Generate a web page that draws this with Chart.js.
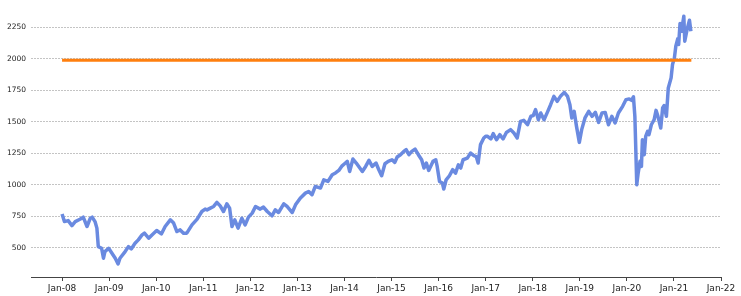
<!DOCTYPE html>
<html lang="en">
<head>
  <meta charset="UTF-8" />
  <title>Index level</title>
  <script src="https://cdn.jsdelivr.net/npm/chart.js"></script>
  <style>
    html, body { margin: 0; padding: 0; background: #fff; }
    .wrap { width: 741px; height: 296px; }
  </style>
</head>
<body>
  <div class="wrap"><canvas id="chart"></canvas></div>

  <script>
    // dates as decimal years
    const dates = [
      2008.00, 2008.05, 2008.13, 2008.21, 2008.28, 2008.38, 2008.45, 2008.53, 2008.60, 2008.64,
      2008.70, 2008.74, 2008.77, 2008.84, 2008.88, 2008.91, 2008.99, 2009.06, 2009.13, 2009.19,
      2009.23, 2009.34, 2009.41, 2009.47, 2009.55, 2009.62, 2009.70, 2009.75, 2009.84, 2009.91,
      2010.01, 2010.11, 2010.19, 2010.30, 2010.37, 2010.44, 2010.51, 2010.58, 2010.65, 2010.76,
      2010.87, 2010.97, 2011.04, 2011.08, 2011.15, 2011.22, 2011.29, 2011.36, 2011.43, 2011.50,
      2011.56, 2011.61, 2011.67, 2011.74, 2011.82, 2011.89, 2011.96, 2012.04, 2012.11, 2012.21,
      2012.28, 2012.36, 2012.46, 2012.53, 2012.60, 2012.71, 2012.78, 2012.89, 2012.96, 2013.06,
      2013.17, 2013.24, 2013.31, 2013.38, 2013.49, 2013.56, 2013.65, 2013.74, 2013.81, 2013.88,
      2013.95, 2014.02, 2014.06, 2014.11, 2014.18, 2014.25, 2014.38, 2014.45, 2014.52, 2014.59,
      2014.67, 2014.73, 2014.79, 2014.86, 2014.93, 2015.01, 2015.07, 2015.12, 2015.19, 2015.26,
      2015.31, 2015.37, 2015.43, 2015.50, 2015.57, 2015.64, 2015.69, 2015.74, 2015.79, 2015.88,
      2015.94, 2015.97, 2016.02, 2016.08, 2016.11, 2016.16, 2016.23, 2016.30, 2016.36, 2016.42,
      2016.47, 2016.52, 2016.61, 2016.68, 2016.75, 2016.80, 2016.84, 2016.89, 2016.96, 2017.00,
      2017.04, 2017.11, 2017.16, 2017.23, 2017.30, 2017.37, 2017.44, 2017.53, 2017.60, 2017.67,
      2017.74, 2017.81, 2017.89, 2017.96, 2018.01, 2018.06, 2018.12, 2018.17, 2018.24, 2018.31,
      2018.38, 2018.45, 2018.52, 2018.60, 2018.67, 2018.74, 2018.79, 2018.83, 2018.88, 2018.93,
      2018.99, 2019.04, 2019.11, 2019.19, 2019.26, 2019.33, 2019.40, 2019.47, 2019.54, 2019.61,
      2019.68, 2019.75, 2019.82, 2019.91, 2019.98, 2020.05, 2020.10, 2020.14, 2020.17, 2020.19,
      2020.21, 2020.24, 2020.28, 2020.31, 2020.33, 2020.37, 2020.40, 2020.44, 2020.47, 2020.52,
      2020.58, 2020.62, 2020.66, 2020.72, 2020.76, 2020.79, 2020.84, 2020.88, 2020.94, 2020.97,
      2021.01, 2021.04, 2021.08, 2021.10, 2021.13, 2021.16, 2021.21, 2021.23, 2021.28, 2021.33,
      2021.36
    ];

    const indexValues = [
      770, 709, 717, 677, 709, 728, 744, 670, 736, 744,
      709, 657, 510, 497, 418, 471, 497, 458, 418, 373,
      418, 471, 510, 492, 537, 564, 603, 617, 577, 603,
      638, 611, 670, 723, 697, 630, 643, 617, 617, 683,
      728, 789, 808, 802, 816, 829, 861, 834, 789, 850,
      816, 670, 723, 657, 736, 683, 744, 776, 829, 808,
      824, 789, 755, 802, 781, 850, 829, 781, 842, 895,
      935, 948, 922, 988, 975, 1041, 1028, 1081, 1095, 1115,
      1152, 1174, 1187, 1107, 1206, 1174, 1107, 1147, 1195, 1147,
      1174, 1121, 1073, 1168, 1187, 1200, 1179, 1222, 1240, 1266,
      1280, 1240, 1266, 1285, 1240, 1200, 1134, 1174, 1115, 1187,
      1200, 1147, 1028, 1015, 967, 1041, 1073, 1121, 1094, 1160,
      1134, 1200, 1213, 1253, 1232, 1225, 1174, 1320, 1373, 1386,
      1386, 1365, 1407, 1359, 1399, 1365, 1417, 1439, 1412, 1373,
      1505, 1513, 1478, 1545, 1550, 1598, 1518, 1571, 1518, 1576,
      1637, 1703, 1664, 1709, 1735, 1703, 1637, 1532, 1584, 1465,
      1338, 1439, 1532, 1584, 1545, 1576, 1497, 1571, 1576, 1478,
      1545, 1492, 1571, 1624, 1677, 1683, 1672, 1699, 1545, 1280,
      1001, 1094, 1187, 1147, 1359, 1240, 1386, 1425, 1399, 1478,
      1518, 1592, 1545, 1452, 1611, 1630, 1545, 1770, 1850, 1956,
      2009, 2101, 2160, 2115, 2282, 2221, 2340, 2141, 2234, 2308,
      2221
    ];

    const refDates = [2008.00, 2021.37];
    const refValues = [1990, 1990];

    const yTicks = [500, 750, 1000, 1250, 1500, 1750, 2000, 2250];
    const xTicks = [2008, 2009, 2010, 2011, 2012, 2013, 2014, 2015, 2016, 2017, 2018, 2019, 2020, 2021, 2022];

    const toPoints = (xs, ys) => xs.map((x, i) => ({ x: x, y: ys[i] }));

    new Chart(document.getElementById('chart').getContext('2d'), {
      type: 'line',
      data: {
        datasets: [
          {
            label: 'Reference',
            data: toPoints(refDates, refValues),
            borderColor: '#ff7f0e',
            borderWidth: 3,
            pointRadius: 0,
            tension: 0
          },
          {
            label: 'Index',
            data: toPoints(dates, indexValues),
            borderColor: '#6a8ae0',
            borderWidth: 3.5,
            borderJoinStyle: 'round',
            pointRadius: 0,
            tension: 0
          }
        ]
      },
      options: {
        responsive: true,
        maintainAspectRatio: false,
        animation: false,
        layout: { padding: { top: 2, right: 20, left: 0, bottom: 0 } },
        plugins: {
          legend: { display: false },
          tooltip: { enabled: false }
        },
        scales: {
          x: {
            type: 'linear',
            min: 2007.34,
            max: 2022,
            afterBuildTicks: axis => { axis.ticks = xTicks.map(v => ({ value: v })); },
            afterFit: axis => { axis.height = 19; },
            grid: { drawOnChartArea: false, drawTicks: true, tickLength: 4, color: '#444' },
            border: { display: true, color: '#444', width: 1 },
            ticks: {
              padding: 2,
              color: '#222',
              font: { family: 'DejaVu Sans', size: 9 },
              maxRotation: 0,
              autoSkip: false,
              callback: v => 'Jan-' + String(v).slice(2)
            }
          },
          y: {
            min: 269,
            max: 2393,
            afterBuildTicks: axis => { axis.ticks = yTicks.map(v => ({ value: v })); },
            afterFit: axis => { axis.width = 31; },
            grid: { color: '#c4c4c4', lineWidth: 1, drawTicks: false },
            border: { display: false, dash: [2, 1] },
            ticks: {
              padding: 5,
              color: '#222',
              font: { family: 'DejaVu Sans', size: 7.5 },
              callback: v => String(v)
            }
          }
        }
      }
    });
  </script>
</body>
</html>
